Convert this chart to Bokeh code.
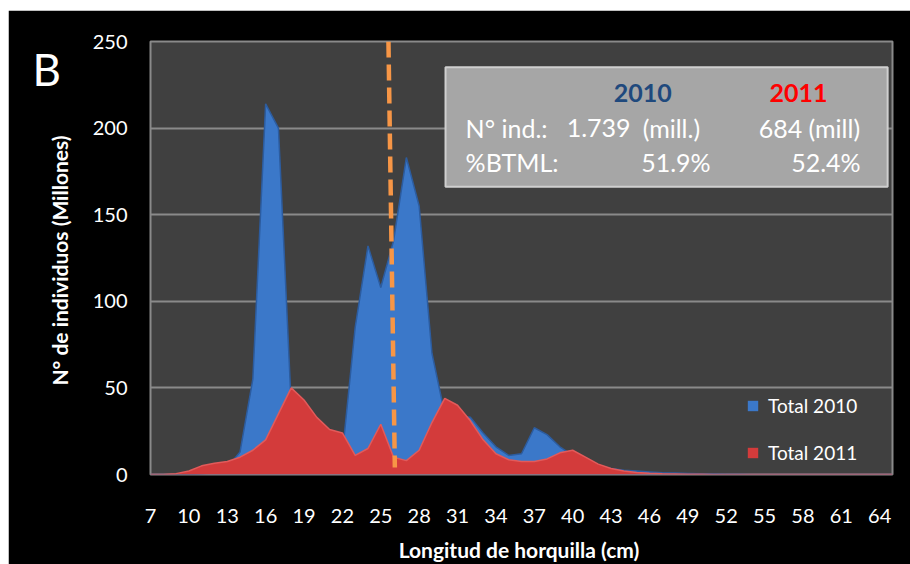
from bokeh.plotting import figure
from bokeh.layouts import column, row
from bokeh.models import (ColumnDataSource, Legend, LegendItem, Label,
                          BoxAnnotation, FixedTicker, Range1d, Spacer)
from bokeh.embed import file_html
from bokeh.resources import INLINE

# ---------------- data ----------------
lengths = list(range(7, 66))  # Longitud de horquilla (cm), 7..65

total_2010 = [0, 0, 0, 0, 0.5, 1, 4, 13, 55, 214,
              200, 40, 20, 15, 12, 12, 85, 132, 108, 135,
              183, 155, 70, 35, 34, 33, 24, 16, 11, 12,
              27, 23, 16, 11, 8, 5, 3.5, 2.5, 2, 1.5,
              1, 0.8, 0.6, 0.4, 0.3, 0.2, 0.1, 0, 0, 0,
              0, 0, 0, 0, 0, 0, 0, 0, 0]

total_2011 = [0, 0, 0.5, 2, 5, 6.5, 7.5, 10, 14, 20,
              35, 50, 43, 33, 26, 24, 11, 15, 29, 10,
              8, 14, 30, 44, 40, 31, 20, 12, 8.5, 7.5,
              7.5, 9, 12.5, 14, 10, 6, 3.5, 2, 1.2, 0.7,
              0.4, 0.3, 0.2, 0.1, 0, 0, 0, 0, 0, 0,
              0, 0, 0, 0, 0, 0, 0, 0, 0]

series_names = ["Total 2010", "Total 2011"]
x_ticks = list(range(7, 65, 3))
y_ticks = [0, 50, 100, 150, 200, 250]

# BTML reference line (talla minima legal ~26 cm), as drawn (slightly slanted)
btml_line_x = [25.6, 26.1]
btml_line_y = [250, 4]

box_years = ["2010", "2011"]
box_row1 = ["N\u00b0 ind.:", "1.739", "(mill.)", "684 (mill)"]
box_row2 = ["%BTML:", "51.9%", "52.4%"]

panel_letter = "B"
x_title = "Longitud de horquilla  (cm)"
y_title = "N\u00b0 de individuos  (Millones)"

# ---------------- figure ----------------
FONT = "Lato"
p = figure(width=902, height=554, output_backend="svg", toolbar_location=None,
           x_range=Range1d(7, 65), y_range=Range1d(0, 250),
           min_border_left=142, min_border_right=18,
           min_border_top=31, min_border_bottom=88,
           background_fill_color="#404040", border_fill_color="#000000")
p.outline_line_color = "#8a8a8a"
p.outline_line_width = 2

src = ColumnDataSource(dict(x=lengths, y2010=total_2010, y2011=total_2011))

r10 = p.varea(x="x", y1=0, y2="y2010", source=src, fill_color="#3b78c9")
p.line(x="x", y="y2010", source=src, line_color="#2c5c9f", line_width=1.5)
r11 = p.varea(x="x", y1=0, y2="y2011", source=src, fill_color="#d33b3b")
p.line(x="x", y="y2011", source=src, line_color="#e25a5a", line_width=1.5)

p.segment(x0=[btml_line_x[0]], y0=[btml_line_y[0]],
          x1=[btml_line_x[1]], y1=[btml_line_y[1]],
          line_color="#f79646", line_width=4.5, line_dash="16 7")

# grid
p.xgrid.visible = False
p.ygrid.ticker = FixedTicker(ticks=y_ticks)
p.ygrid.grid_line_color = "#8a8a8a"
p.ygrid.grid_line_width = 2

# axes
for ax in (p.xaxis[0], p.yaxis[0]):
    ax.axis_line_color = None
    ax.major_tick_line_color = None
    ax.minor_tick_line_color = None
    ax.major_tick_out = 0
    ax.major_tick_in = 0
    ax.minor_tick_out = 0
    ax.minor_tick_in = 0
    ax.major_label_text_color = "#ffffff"
    ax.major_label_text_font = FONT
    ax.major_label_text_font_size = "20px"
    ax.axis_label_text_color = "#ffffff"
    ax.axis_label_text_font = FONT
    ax.axis_label_text_font_style = "bold"
    ax.axis_label_text_font_size = "21px"

p.xaxis.ticker = FixedTicker(ticks=x_ticks)
p.xaxis.major_label_standoff = 34
p.xaxis.axis_label = x_title
p.xaxis.axis_label_standoff = 11

p.yaxis.ticker = FixedTicker(ticks=y_ticks)
p.yaxis.major_label_standoff = 23
p.yaxis.axis_label = y_title
p.yaxis.axis_label_standoff = 18

# legend
legend = Legend(items=[LegendItem(label=series_names[0], renderers=[r10]),
                       LegendItem(label=series_names[1], renderers=[r11])],
                location=(596, 10), background_fill_alpha=0, border_line_color=None,
                label_text_color="#ffffff", label_text_font=FONT,
                label_text_font_size="19px", glyph_width=13, glyph_height=13,
                label_standoff=9, spacing=24, padding=4, margin=0)
p.add_layout(legend)

# info box
p.add_layout(BoxAnnotation(left=30.06, right=64.62, bottom=166.1, top=235.1,
                           fill_color="#a6a6a6", fill_alpha=1.0,
                           line_color="#cfcfcf", line_width=2, line_alpha=1.0))

def lab(x, y, text, align="left", color="#ffffff", bold=False, size="25px",
        baseline="middle"):
    p.add_layout(Label(x=x, y=y, text=text, text_align=align,
                       text_baseline=baseline, text_color=color,
                       text_font=FONT, text_font_size=size,
                       text_font_style="bold" if bold else "normal"))

lab(45.47, 220, box_years[0], align="center", color="#1f497d", bold=True)
lab(57.66, 220, box_years[1], align="center", color="#ff0000", bold=True)
lab(31.63, 200, box_row1[0])
lab(39.53, 200, box_row1[1])
lab(45.47, 200, box_row1[2])
lab(54.54, 200, box_row1[3])
lab(31.63, 180.5, box_row2[0])
lab(50.78, 180.5, box_row2[1], align="right")
lab(62.51, 180.5, box_row2[2], align="right")

# panel letter, in a side panel on the left so it is not clipped to the frame
p.add_layout(Label(x=17, y=406, x_units="screen", y_units="screen",
                   text=panel_letter, text_align="left", text_baseline="alphabetic",
                   text_color="#ffffff", text_font=FONT, text_font_size="44px"),
             "left")

page = column(Spacer(width=910, height=10),
              row(Spacer(width=8, height=554), p, spacing=0),
              spacing=0)

open("out.html", "w").write(file_html(page, INLINE))
